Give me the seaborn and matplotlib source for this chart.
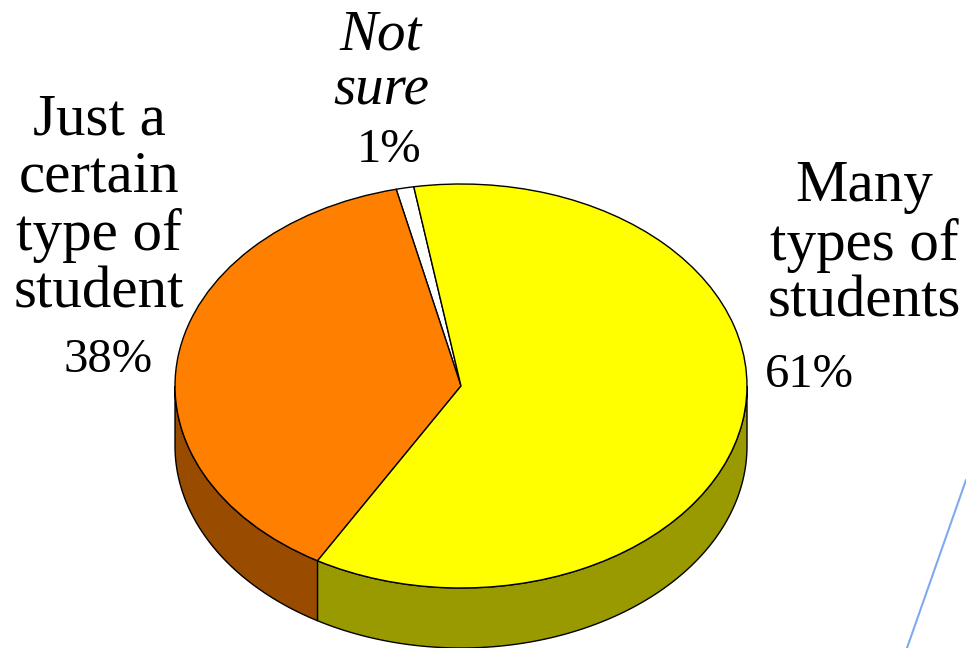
import numpy as np
import seaborn as sns
import matplotlib.pyplot as plt
from matplotlib.lines import Line2D

sns.set_theme(style="white")
plt.rcParams['font.family'] = ['Liberation Serif', 'DejaVu Serif']

# values go counterclockwise from the top
labels = ['Not\nsure', 'Just a\ncertain\ntype of\nstudent', 'Many\ntypes of\nstudents']
shares = [1, 38, 61]
pct_labels = ['1%', '38%', '61%']
top_colors = ['#FFFFFF', '#FF7F00', '#FFFF00']
side_colors = ['#999999', '#994C00', '#999900']

start_angle = 99.5
cx, cy, rx, ry = 461, 386, 286, 202
depth = 60 / ry

W, H = 966, 648
fig = plt.figure(figsize=(W / 100, H / 100), dpi=100)
ax = fig.add_axes([(cx - rx) / W, (H - cy - ry) / H, 2 * rx / W, 2 * ry / H])

ax.pie(shares, colors=top_colors, startangle=start_angle, radius=1,
       wedgeprops={'edgecolor': 'black', 'linewidth': 1, 'clip_on': False})

# side wall, only the front half of the rim shows
angle = start_angle
for share, col in zip(shares, side_colors):
    end = angle + share * 3.6
    a, b = max(angle, 180), min(end, 360)
    if b > a:
        t = np.radians(np.linspace(a, b, 100))
        xs = np.concatenate([np.cos(t), np.cos(t)[::-1]])
        ys = np.concatenate([np.sin(t), np.sin(t)[::-1] - depth])
        ax.fill(xs, ys, facecolor=col, edgecolor='black', linewidth=1, clip_on=False, zorder=0)
    angle = end

ax.set_aspect('auto')
ax.set_xlim(-1, 1)
ax.set_ylim(-1, 1)
ax.axis('off')


def put(x, y, s, size=42.5, **kw):
    fig.text(x / W, 1 - y / H, s, fontsize=size, ha='center', va='center',
             color='black', linespacing=1.08, **kw)


put(381, 63, labels[0], size=41, style='italic')
put(389, 150, pct_labels[0], size=35)
put(99, 207, labels[1])
put(108, 360, pct_labels[1], size=35)
put(864, 245, labels[2])
put(809, 375, pct_labels[2], size=35)

fig.add_artist(Line2D([966 / W, 907 / W], [1 - 480 / H, 0], color='#7FAAF0', linewidth=1.5))

fig.savefig('out.png', dpi=100, facecolor='white')
